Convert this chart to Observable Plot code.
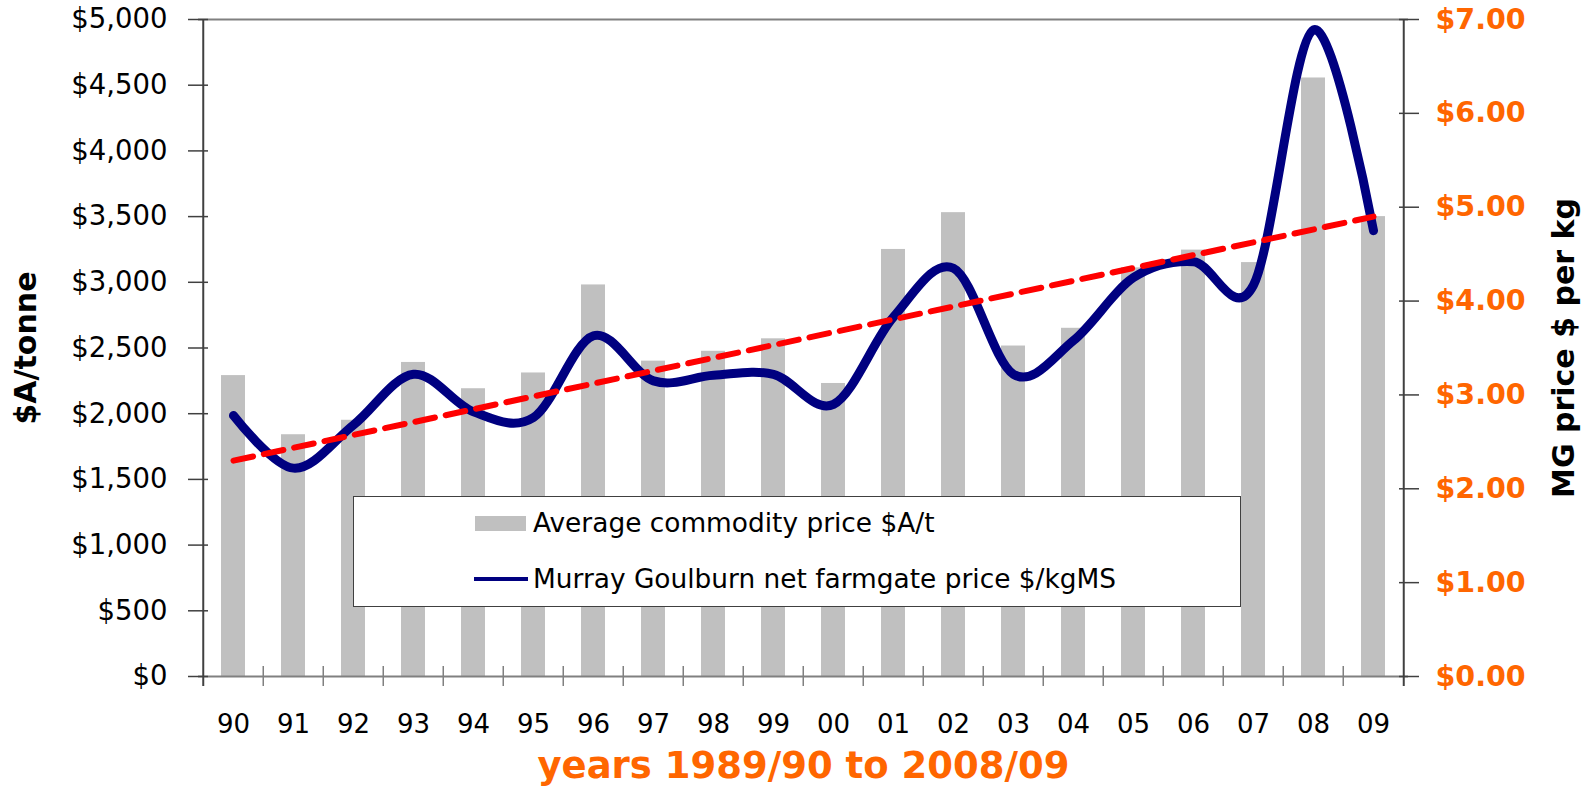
<!DOCTYPE html>
<html><head><meta charset="utf-8">
<script src="https://cdn.jsdelivr.net/npm/d3@7"></script>
<script src="https://cdn.jsdelivr.net/npm/@observablehq/plot@0.6"></script>
<style>
body{margin:0;background:#fff;font-family:"DejaVu Sans",Verdana,sans-serif}
#wrap{position:relative;width:1591px;height:789px}
.legend{position:absolute;left:353px;top:496px;width:888px;height:111px;border:1.5px solid #404040;background:#fff;box-sizing:border-box}
.sw{position:absolute}
.lt{position:absolute;left:179px;font-size:26.4px;line-height:30px;color:#000;white-space:nowrap}
</style></head>
<body>
<div id="wrap"></div>
<script>
// ---- data ----
const years = ["90","91","92","93","94","95","96","97","98","99","00","01","02","03","04","05","06","07","08","09"];
const commodity = [2290,1840,1950,2390,2190,2310,2980,2400,2475,2570,2230,3250,3530,2515,2650,3110,3245,3150,4555,3500];
const mgPrice = [2.78,2.22,2.68,3.22,2.82,2.76,3.63,3.15,3.21,3.22,2.90,3.83,4.35,3.22,3.58,4.25,4.42,4.17,6.89,4.75];
const trendYears = ["90","09"];
const trendValues = [2.30,4.90];
const leftTicks = [0,500,1000,1500,2000,2500,3000,3500,4000,4500,5000];
const rightTicks = [0,1,2,3,4,5,6,7];
const leftTitle = "$A/tonne";
const rightTitle = "MG price $ per kg";
const xTitle = "years 1989/90 to 2008/09";
const legendLabels = ["Average commodity price $A/t","Murray Goulburn net farmgate price $/kgMS"];

// ---- chart ----
const W=1591,H=789,ML=198,MR=183,MT=19,MB=113;
const step=(W-ML-MR)/years.length;
const k=5000/7;              // right-axis $ -> left-axis units
const perPx=5000/(H-MT-MB);  // data units per pixel
const data=years.map((y,i)=>({year:y,commodity:commodity[i],mg:mgPrice[i]*k}));
const trend=trendYears.map((y,i)=>({year:y,v:trendValues[i]*k}));

const chart=Plot.plot({
  width:W,height:H,marginLeft:ML,marginRight:MR,marginTop:MT,marginBottom:MB,
  style:{fontFamily:"DejaVu Sans",fontSize:"26px",color:"#000",background:"#fff",overflow:"visible"},
  x:{type:"band",domain:years,paddingInner:0.6,paddingOuter:0.3},
  y:{domain:[0,5000]},
  marks:[
    Plot.barY(data,{x:"year",y:"commodity",fill:"#C0C0C0"}),
    Plot.ruleY([0],{stroke:"#808080",strokeWidth:2}),
    Plot.ruleY([5000],{stroke:"#808080",strokeWidth:2}),
    Plot.ruleX(years.slice(1),{dx:-step/2,y1:-10*perPx,y2:10*perPx,stroke:"#808080",strokeWidth:1.5}),
    Plot.ruleX([years[0]],{dx:-step/2,y1:-10*perPx,y2:5000,stroke:"#404040",strokeWidth:2}),
    Plot.ruleX([years[years.length-1]],{dx:step/2,y1:-10*perPx,y2:5000,stroke:"#404040",strokeWidth:2}),
    Plot.axisY(leftTicks,{anchor:"left",tickSize:20,dx:10,tickPadding:21,
      tickFormat:d=>"$"+d3.format(",")(d),fontSize:27.5,stroke:"#404040",strokeWidth:1.5,label:null}),
    Plot.axisY(rightTicks.map(d=>d*k),{anchor:"right",tickSize:20,dx:-10,tickPadding:17,
      tickFormat:d=>"$"+(d/k).toFixed(2),fontSize:28.5,fontWeight:"bold",fill:"#FF6600",stroke:"#404040",strokeWidth:1.5,label:null}),
    Plot.axisX({tickSize:0,tickPadding:38,fontSize:26,label:null}),
    Plot.line(data,{x:"year",y:"mg",curve:"cardinal",tension:0,stroke:"#000080",strokeWidth:9,strokeLinecap:"round",strokeLinejoin:"round"}),
    Plot.line(trend,{x:"year",y:"v",stroke:"#FF0000",strokeWidth:6,strokeDasharray:"20,11"}),
    Plot.text([leftTitle],{frameAnchor:"left",dx:-172,rotate:-90,textAnchor:"middle",lineAnchor:"middle",fontSize:30,fontWeight:"bold",fill:"#000"}),
    Plot.text([rightTitle],{frameAnchor:"right",dx:156,rotate:-90,textAnchor:"middle",lineAnchor:"middle",fontSize:30,fontWeight:"bold",fill:"#000"}),
    Plot.text([xTitle],{frameAnchor:"bottom",dy:101,textAnchor:"middle",lineAnchor:"bottom",fontSize:37,fontWeight:"bold",fill:"#FF6600"})
  ]
});
const wrap=document.getElementById("wrap");
wrap.appendChild(chart);
chart.style.position="absolute";chart.style.left="0";chart.style.top="0";

// legend
const lg=document.createElement("div");lg.className="legend";
lg.innerHTML=`
<div class="sw" style="left:121px;top:19px;width:51px;height:15px;background:#C0C0C0"></div>
<div class="lt" style="top:11px">${legendLabels[0]}</div>
<div class="sw" style="left:120px;top:80px;width:54px;height:3.5px;background:#000080"></div>
<div class="lt" style="top:67px">${legendLabels[1]}</div>`;
wrap.appendChild(lg);
</script>
</body></html>
